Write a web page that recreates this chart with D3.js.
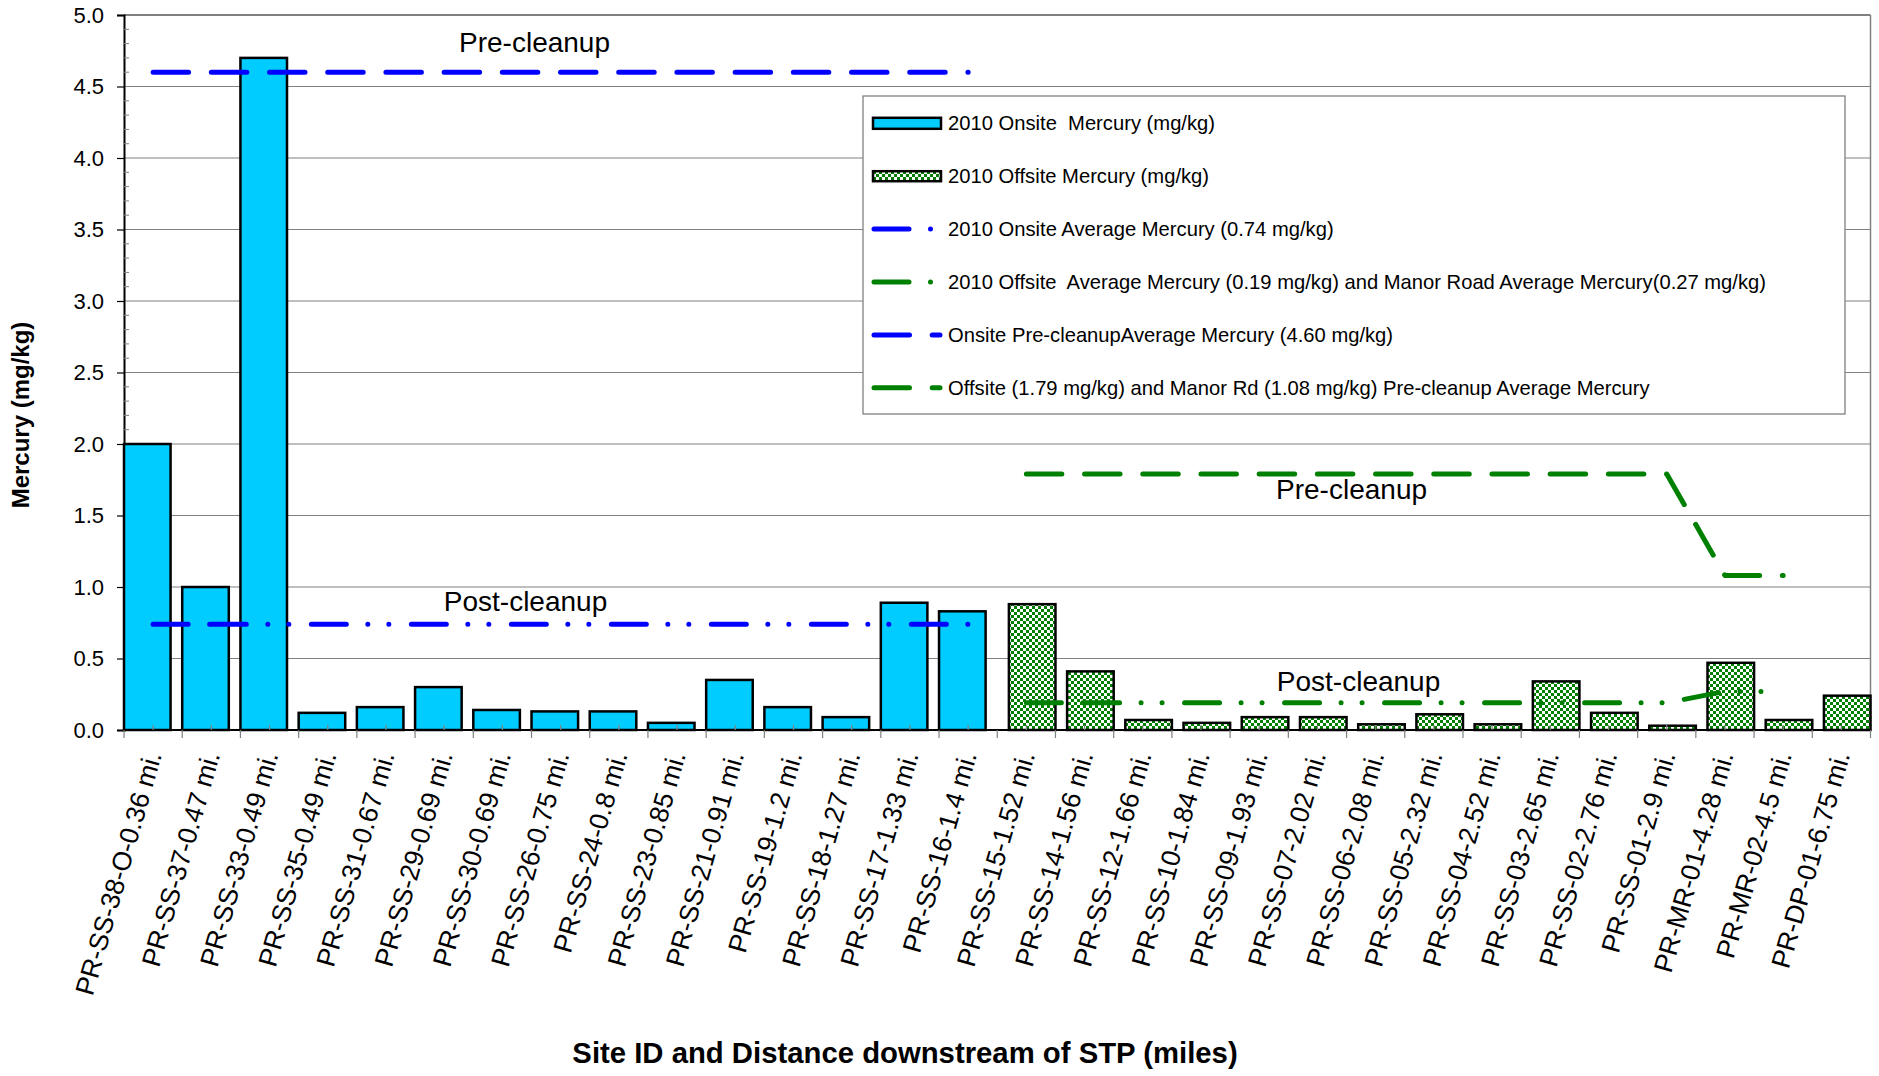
<!DOCTYPE html>
<html><head><meta charset="utf-8">
<script src="https://cdn.jsdelivr.net/npm/d3@7"></script>
<style>
body{margin:0;background:#fff}
svg{display:block}
text{font-family:"Liberation Sans",Arial,Helvetica,sans-serif;fill:#000}
</style>
</head><body>
<svg id="chart" width="1879" height="1076"></svg>
<script>
// ---------- data ----------
const categories = [
  "PR-SS-38-O-0.36 mi.","PR-SS-37-0.47 mi.","PR-SS-33-0.49 mi.","PR-SS-35-0.49 mi.","PR-SS-31-0.67 mi.",
  "PR-SS-29-0.69 mi.","PR-SS-30-0.69 mi.","PR-SS-26-0.75 mi.","PR-SS-24-0.8 mi.","PR-SS-23-0.85 mi.",
  "PR-SS-21-0.91 mi.","PR-SS-19-1.2 mi.","PR-SS-18-1.27 mi.","PR-SS-17-1.33 mi.","PR-SS-16-1.4 mi.",
  "PR-SS-15-1.52 mi.","PR-SS-14-1.56 mi.","PR-SS-12-1.66 mi.","PR-SS-10-1.84 mi.","PR-SS-09-1.93 mi.",
  "PR-SS-07-2.02 mi.","PR-SS-06-2.08 mi.","PR-SS-05-2.32 mi.","PR-SS-04-2.52 mi.","PR-SS-03-2.65 mi.",
  "PR-SS-02-2.76 mi.","PR-SS-01-2.9 mi.","PR-MR-01-4.28 mi.","PR-MR-02-4.5 mi.","PR-DP-01-6.75 mi."
];
const onsiteMercury = [2.00,1.00,4.70,0.12,0.16,0.30,0.14,0.13,0.13,0.05,0.35,0.16,0.09,0.89,0.83,
  null,null,null,null,null,null,null,null,null,null,null,null,null,null,null];
const offsiteMercury = [null,null,null,null,null,null,null,null,null,null,null,null,null,null,null,
  0.88,0.41,0.07,0.05,0.09,0.09,0.04,0.11,0.04,0.34,0.12,0.03,0.47,0.07,0.24];
const onsiteAvg2010 = [0.74,0.74,0.74,0.74,0.74,0.74,0.74,0.74,0.74,0.74,0.74,0.74,0.74,0.74,0.74,
  null,null,null,null,null,null,null,null,null,null,null,null,null,null,null];
const offsiteAvg2010 = [null,null,null,null,null,null,null,null,null,null,null,null,null,null,null,
  0.19,0.19,0.19,0.19,0.19,0.19,0.19,0.19,0.19,0.19,0.19,0.19,0.27,0.27,null];
const onsitePreCleanup = [4.60,4.60,4.60,4.60,4.60,4.60,4.60,4.60,4.60,4.60,4.60,4.60,4.60,4.60,4.60,
  null,null,null,null,null,null,null,null,null,null,null,null,null,null,null];
const offsitePreCleanup = [null,null,null,null,null,null,null,null,null,null,null,null,null,null,null,
  1.79,1.79,1.79,1.79,1.79,1.79,1.79,1.79,1.79,1.79,1.79,1.79,1.08,1.08,null];
const yTicks = [0,0.5,1.0,1.5,2.0,2.5,3.0,3.5,4.0,4.5,5.0];
const yMinorTicks = [0.1,0.2,0.3,0.4,0.6,0.7,0.8,0.9,1.1,1.2,1.3,1.4,1.6,1.7,1.8,1.9,2.1,2.2,2.3,2.4,
  2.6,2.7,2.8,2.9,3.1,3.2,3.3,3.4,3.6,3.7,3.8,3.9,4.1,4.2,4.3,4.4,4.6,4.7,4.8,4.9];
const legendLabels = [
  "2010 Onsite  Mercury (mg/kg)",
  "2010 Offsite Mercury (mg/kg)",
  "2010 Onsite Average Mercury (0.74 mg/kg)",
  "2010 Offsite  Average Mercury (0.19 mg/kg) and Manor Road Average Mercury(0.27 mg/kg)",
  "Onsite Pre-cleanupAverage Mercury (4.60 mg/kg)",
  "Offsite (1.79 mg/kg) and Manor Rd (1.08 mg/kg) Pre-cleanup Average Mercury"
];
const yTitle = "Mercury (mg/kg)";
const xTitle = "Site ID and Distance downstream of STP (miles)";

// ---------- layout ----------
const svg = d3.select("#chart");
const pLeft = 124, pRight = 1870.5, pTop = 15, pBottom = 730;
const x = d3.scaleBand().domain(categories).range([pLeft, pRight]).paddingInner(0).paddingOuter(0);
const y = d3.scaleLinear().domain([0, 5]).range([pBottom, pTop]);
const bw = x.bandwidth();
const BLUE = "#0000FF", GREEN = "#008000", SKY = "#00CCFF";

const defs = svg.append("defs");
const pat = defs.append("pattern").attr("id","dots").attr("patternUnits","userSpaceOnUse")
  .attr("width",6).attr("height",6);
pat.append("rect").attr("width",6).attr("height",6).attr("fill","#fff");
pat.append("rect").attr("x",0).attr("y",0).attr("width",3).attr("height",3).attr("fill",GREEN);
pat.append("rect").attr("x",3).attr("y",3).attr("width",3).attr("height",3).attr("fill",GREEN);

// gridlines
svg.append("g").selectAll("line").data(yTicks.filter(d => d > 0)).join("line")
  .attr("x1", pLeft).attr("x2", pRight).attr("y1", d => y(d)).attr("y2", d => y(d))
  .attr("stroke", "#808080").attr("stroke-width", d => d === 5 ? 2 : 1.2);
// right border
svg.append("line").attr("x1", pRight).attr("x2", pRight).attr("y1", pTop).attr("y2", pBottom)
  .attr("stroke", "#808080").attr("stroke-width", 1.5);

// y axis
const yAxisG = svg.append("g").attr("transform", `translate(${pLeft},0)`)
  .call(d3.axisLeft(y).tickValues(yTicks).tickFormat(d3.format(".1f")).tickSize(7).tickPadding(13));
yAxisG.select(".domain").attr("stroke", "#000").attr("stroke-width", 2);
yAxisG.selectAll(".tick line").attr("stroke", "#000").attr("stroke-width", 1.2);
yAxisG.selectAll(".tick text").attr("font-size", 22).attr("font-family", '"Liberation Sans",Arial,sans-serif').attr("fill","#000");
svg.append("g").selectAll("line").data(yMinorTicks).join("line")
  .attr("x1", pLeft).attr("x2", pLeft + 5).attr("y1", d => y(d)).attr("y2", d => y(d))
  .attr("stroke", "#808080").attr("stroke-width", 1);

// bars
svg.append("g").selectAll("rect").data(categories.map((c, i) => ({c, v: onsiteMercury[i]})).filter(d => d.v != null))
  .join("rect")
  .attr("x", d => x(d.c)).attr("width", bw * 0.8)
  .attr("y", d => y(d.v)).attr("height", d => y(0) - y(d.v))
  .attr("fill", SKY).attr("stroke", "#000").attr("stroke-width", 2.5);
svg.append("g").selectAll("rect").data(categories.map((c, i) => ({c, v: offsiteMercury[i]})).filter(d => d.v != null))
  .join("rect")
  .attr("x", d => x(d.c) + bw * 0.2).attr("width", bw * 0.8)
  .attr("y", d => y(d.v)).attr("height", d => y(0) - y(d.v))
  .attr("fill", "url(#dots)").attr("stroke", "#000").attr("stroke-width", 2.5);

// x axis
svg.append("line").attr("x1", pLeft).attr("x2", pRight).attr("y1", pBottom).attr("y2", pBottom)
  .attr("stroke", "#000").attr("stroke-width", 2);
const bounds = categories.map(c => x(c)).concat([pRight]);
svg.append("g").selectAll("line").data(bounds).join("line")
  .attr("x1", d => d).attr("x2", d => d).attr("y1", pBottom).attr("y2", pBottom + 8)
  .attr("stroke", "#808080").attr("stroke-width", 1.2);
svg.append("g").selectAll("line").data(categories).join("line")
  .attr("x1", d => x(d) + bw / 2).attr("x2", d => x(d) + bw / 2).attr("y1", pBottom).attr("y2", pBottom - 5)
  .attr("stroke", "#808080").attr("stroke-width", 1.2);
svg.append("g").selectAll("text").data(categories).join("text")
  .attr("transform", d => `translate(${x(d) + bw / 2},${pBottom + 22}) rotate(-74)`)
  .attr("text-anchor", "end").attr("dy", "0.35em").attr("font-size", 26.5)
  .text(d => d);

// lines
const DOTDASH = "35 21.5 0 21 0 22.5";
const LONGDASH = "35.5 22.7";
const line = d3.line().x(d => x(d.c) + bw / 2).y(d => y(d.v));
function pts(arr) { return categories.map((c, i) => ({c, v: arr[i]})).filter(d => d.v != null); }
function drawLine(points, color, dash) {
  svg.append("path").attr("d", line(points)).attr("fill", "none")
    .attr("stroke", color).attr("stroke-width", 5).attr("stroke-linecap", "round")
    .attr("stroke-linejoin", "round").attr("stroke-dasharray", dash);
}
// 2010 averages: pattern restarts after the first segment
const oa = pts(onsiteAvg2010);
drawLine(oa.slice(0, 2), BLUE, DOTDASH); drawLine(oa.slice(1), BLUE, DOTDASH);
const fa = pts(offsiteAvg2010);
drawLine(fa.slice(0, 2), GREEN, DOTDASH); drawLine(fa.slice(1), GREEN, DOTDASH);
drawLine(pts(onsitePreCleanup), BLUE, LONGDASH);
drawLine(pts(offsitePreCleanup), GREEN, LONGDASH);

// annotations
const ann = [
  {t: "Pre-cleanup", cx: x(categories[7]) + 3, v: 4.60, dy: -20},
  {t: "Post-cleanup", cx: x(categories[7]) - 6, v: 0.74, dy: -13},
  {t: "Pre-cleanup", cx: x(categories[21]) + 5, v: 1.79, dy: 25},
  {t: "Post-cleanup", cx: x(categories[21]) + 12, v: 0.19, dy: -12}
];
svg.append("g").selectAll("text").data(ann).join("text")
  .attr("x", d => d.cx).attr("y", d => y(d.v) + d.dy).attr("text-anchor", "middle")
  .attr("font-size", 28).text(d => d.t);

// legend
const lg = svg.append("g");
lg.append("rect").attr("x", 863).attr("y", 96).attr("width", 982).attr("height", 318)
  .attr("fill", "#fff").attr("stroke", "#808080").attr("stroke-width", 1.3);
const ly = i => 123.3 + i * 52.9;
lg.append("rect").attr("x", 873).attr("y", ly(0) - 5.5).attr("width", 68).attr("height", 11)
  .attr("fill", SKY).attr("stroke", "#000").attr("stroke-width", 2.5);
lg.append("rect").attr("x", 873).attr("y", ly(1) - 5).attr("width", 68).attr("height", 10)
  .attr("fill", "url(#dots)").attr("stroke", "#000").attr("stroke-width", 2.5);
const legendLines = [[2, BLUE, DOTDASH], [3, GREEN, DOTDASH], [4, BLUE, LONGDASH], [5, GREEN, LONGDASH]];
legendLines.forEach(([i, col, dash]) => {
  lg.append("line").attr("x1", 874).attr("x2", 940).attr("y1", ly(i)).attr("y2", ly(i))
    .attr("stroke", col).attr("stroke-width", 5).attr("stroke-linecap", "round").attr("stroke-dasharray", dash);
});
lg.selectAll("text").data(legendLabels).join("text")
  .attr("x", 948).attr("y", (d, i) => ly(i)).attr("dy", "0.35em").attr("font-size", 20.2)
  .style("white-space", "pre").text(d => d);

// titles
svg.append("text").attr("transform", "translate(29,415) rotate(-90)").attr("text-anchor", "middle")
  .attr("font-size", 24).attr("font-weight", "bold").text(yTitle);
svg.append("text").attr("x", 905).attr("y", 1063).attr("text-anchor", "middle")
  .attr("font-size", 29.3).attr("font-weight", "bold").text(xTitle);
</script>
</body></html>
